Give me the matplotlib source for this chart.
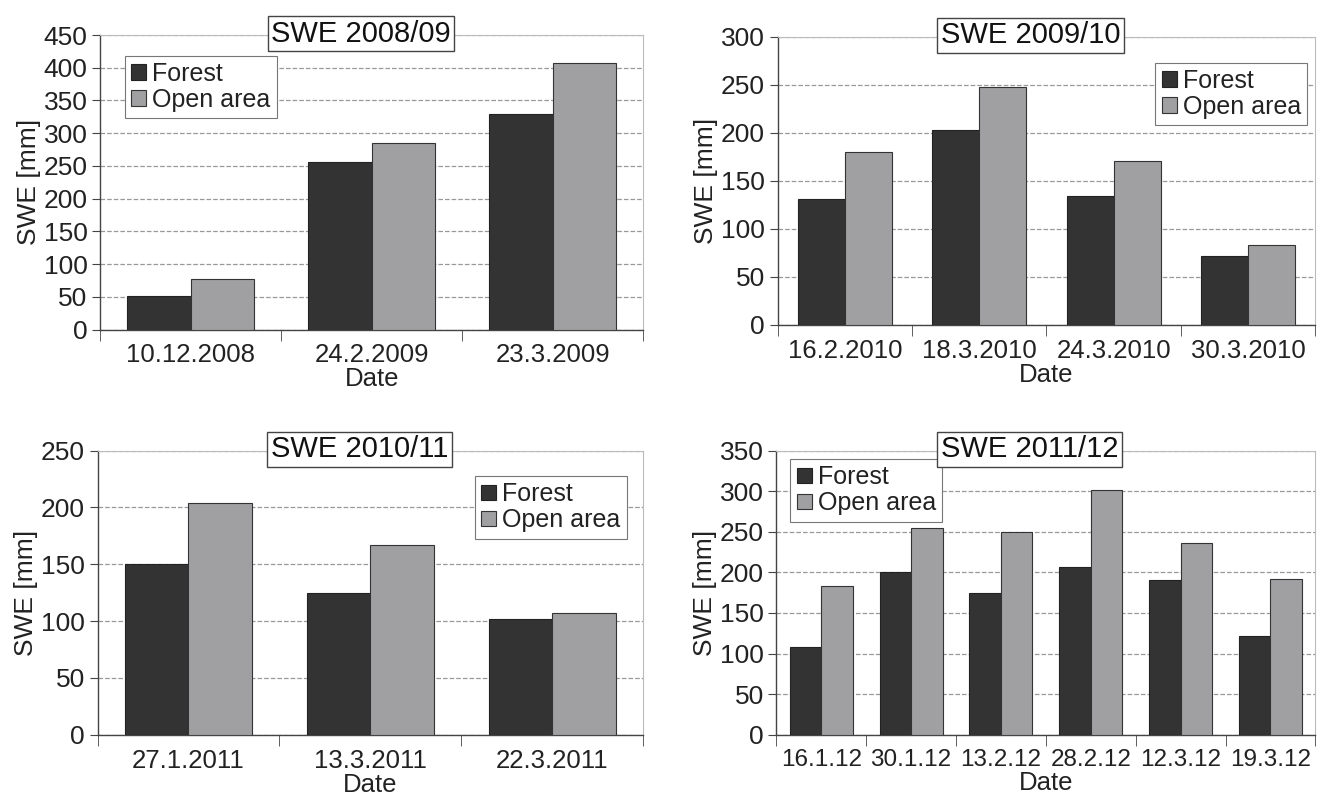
import matplotlib.pyplot as plt
import numpy as np

plt.rcParams['font.family'] = ['Liberation Sans', 'DejaVu Sans']

# data
dates_0809 = ['10.12.2008', '24.2.2009', '23.3.2009']
forest_0809 = [52, 256, 330]
open_0809 = [77, 285, 408]

dates_0910 = ['16.2.2010', '18.3.2010', '24.3.2010', '30.3.2010']
forest_0910 = [131, 203, 134, 72]
open_0910 = [180, 248, 170, 83]

dates_1011 = ['27.1.2011', '13.3.2011', '22.3.2011']
forest_1011 = [150, 125, 102]
open_1011 = [204, 167, 107]

dates_1112 = ['16.1.12', '30.1.12', '13.2.12', '28.2.12', '12.3.12', '19.3.12']
forest_1112 = [108, 200, 175, 207, 191, 121]
open_1112 = [183, 254, 250, 302, 236, 192]

FOREST_C = '#333333'
OPEN_C = '#a0a0a3'
FS = 18.5


def draw_panel(ax, title, dates, forest, open_area, ymax, legend_loc, anchor, title_x,
               xfs=FS):
    x = np.arange(len(dates))
    w = 0.35
    ax.bar(x - w / 2, forest, w, color=FOREST_C, edgecolor='#222222', linewidth=0.8,
           label='Forest', zorder=3)
    ax.bar(x + w / 2, open_area, w, color=OPEN_C, edgecolor='#333333', linewidth=0.8,
           label='Open area', zorder=3)
    ax.set_xlim(-0.5, len(dates) - 0.5)
    ax.set_ylim(0, ymax)
    ax.set_yticks(np.arange(0, ymax + 1, 50))
    ax.yaxis.grid(True, linestyle='--', color='#999999', linewidth=0.9, zorder=0)
    ax.set_axisbelow(True)
    ax.set_xticks(x)
    ax.set_xticklabels(dates)
    ax.set_xticks(np.arange(-0.5, len(dates)), minor=True)
    ax.tick_params(axis='x', which='major', length=0, pad=10, labelsize=xfs, colors='#222222')
    ax.tick_params(axis='x', which='minor', length=8, color='#444444', direction='out')
    ax.tick_params(axis='y', length=6, color='#444444', labelsize=FS + 0.5, colors='#222222', pad=3)
    for s in ['left', 'bottom']:
        ax.spines[s].set_color('#444444')
        ax.spines[s].set_linewidth(1.0)
    for s in ['top', 'right']:
        ax.spines[s].set_color('#bbbbbb')
        ax.spines[s].set_linewidth(0.8)
    ax.set_ylabel('SWE [mm]', fontsize=FS + 0.5, color='#222222', labelpad=2)
    ax.set_xlabel('Date', fontsize=FS, color='#222222', labelpad=0)
    ax.text(title_x, 1.005, title, transform=ax.transAxes, ha='center', va='center',
            fontsize=21, color='#111111', zorder=10,
            bbox=dict(boxstyle='square,pad=0.12', fc='white', ec='#444444', lw=1.0))
    leg = ax.legend(loc=legend_loc, fontsize=FS - 0.5, handlelength=0.6, handleheight=0.6,
                    handletextpad=0.25, borderpad=0.25, labelspacing=0.08, fancybox=False,
                    framealpha=1, borderaxespad=0.0, bbox_to_anchor=anchor)
    leg.get_frame().set_edgecolor('#777777')
    leg.get_frame().set_linewidth(0.8)
    for t in leg.get_texts():
        t.set_color('#222222')


fig = plt.figure(figsize=(13.18, 7.96), dpi=100)
ax1 = fig.add_axes([0.076, 0.586, 0.412, 0.370])
ax2 = fig.add_axes([0.590, 0.592, 0.408, 0.362])
ax3 = fig.add_axes([0.074, 0.077, 0.414, 0.357])
ax4 = fig.add_axes([0.589, 0.077, 0.409, 0.357])

draw_panel(ax1, 'SWE 2008/09', dates_0809, forest_0809, open_0809, 450,
           'upper left', (0.045, 0.93), 0.48)
draw_panel(ax2, 'SWE 2009/10', dates_0910, forest_0910, open_0910, 300,
           'upper right', (0.985, 0.91), 0.47)
draw_panel(ax3, 'SWE 2010/11', dates_1011, forest_1011, open_1011, 250,
           'upper right', (0.97, 0.91), 0.48)
draw_panel(ax4, 'SWE 2011/12', dates_1112, forest_1112, open_1112, 350,
           'upper left', (0.026, 0.97), 0.47, xfs=17.5)

fig.savefig('out.png', dpi=100)
